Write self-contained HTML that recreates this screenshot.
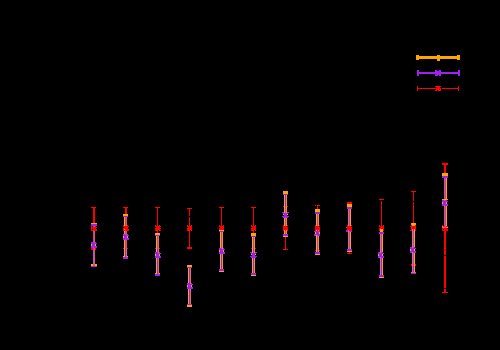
<!DOCTYPE html>
<html><head><meta charset="utf-8"><title>plot</title>
<style>
html,body{margin:0;padding:0;background:#000;width:500px;height:350px;overflow:hidden;font-family:"Liberation Sans",sans-serif;}
svg{display:block;position:absolute;left:0;top:0}
</style></head><body>
<svg width="500" height="350" viewBox="0 0 500 350" shape-rendering="crispEdges">
<rect x="0" y="0" width="500" height="350" fill="#000"/>
<rect x="91" y="207" width="5" height="1" fill="#ff0000"/>
<rect x="91" y="248" width="5" height="1" fill="#ff0000"/>
<rect x="91" y="249" width="5" height="1" fill="#ff0000"/>
<rect x="93" y="207" width="1" height="43" fill="#ff0000"/>
<rect x="94" y="207" width="1" height="43" fill="#ff0000"/>
<rect x="123" y="207" width="5" height="1" fill="#ff0000"/>
<rect x="123" y="248" width="5" height="1" fill="#ff0000"/>
<rect x="125" y="207" width="1" height="42" fill="#ff0000"/>
<rect x="126" y="207" width="1" height="42" fill="#ff0000"/>
<rect x="155" y="207" width="5" height="1" fill="#ff0000"/>
<rect x="155" y="248" width="5" height="1" fill="#ff0000"/>
<rect x="157" y="207" width="1" height="42" fill="#ff0000"/>
<rect x="187" y="208" width="5" height="1" fill="#ff0000"/>
<rect x="187" y="247" width="5" height="1" fill="#ff0000"/>
<rect x="187" y="248" width="5" height="1" fill="#ff0000"/>
<rect x="189" y="208" width="1" height="41" fill="#ff0000"/>
<rect x="219" y="207" width="5" height="1" fill="#ff0000"/>
<rect x="219" y="248" width="5" height="1" fill="#ff0000"/>
<rect x="221" y="207" width="1" height="42" fill="#ff0000"/>
<rect x="251" y="207" width="5" height="1" fill="#ff0000"/>
<rect x="251" y="248" width="5" height="1" fill="#ff0000"/>
<rect x="253" y="207" width="1" height="42" fill="#ff0000"/>
<rect x="283" y="206" width="5" height="1" fill="#ff0000"/>
<rect x="283" y="249" width="5" height="1" fill="#ff0000"/>
<rect x="285" y="206" width="1" height="44" fill="#ff0000"/>
<rect x="315" y="205" width="5" height="1" fill="#ff0000"/>
<rect x="315" y="250" width="5" height="1" fill="#ff0000"/>
<rect x="317" y="205" width="1" height="46" fill="#ff0000"/>
<rect x="347" y="202" width="5" height="1" fill="#ff0000"/>
<rect x="347" y="203" width="5" height="1" fill="#ff0000"/>
<rect x="347" y="253" width="5" height="1" fill="#ff0000"/>
<rect x="349" y="202" width="1" height="52" fill="#ff0000"/>
<rect x="379" y="199" width="5" height="1" fill="#ff0000"/>
<rect x="379" y="257" width="5" height="1" fill="#ff0000"/>
<rect x="381" y="199" width="1" height="59" fill="#ff0000"/>
<rect x="411" y="191" width="5" height="1" fill="#ff0000"/>
<rect x="411" y="264" width="5" height="1" fill="#ff0000"/>
<rect x="411" y="265" width="5" height="1" fill="#ff0000"/>
<rect x="413" y="191" width="1" height="75" fill="#ff0000"/>
<rect x="442" y="163" width="6" height="1" fill="#ff0000"/>
<rect x="442" y="164" width="6" height="1" fill="#ff0000"/>
<rect x="442" y="292" width="6" height="1" fill="#ff0000"/>
<rect x="444" y="163" width="1" height="130" fill="#ff0000"/>
<rect x="445" y="163" width="1" height="130" fill="#ff0000"/>
<rect x="91" y="223" width="6" height="1" fill="#ffa500"/>
<rect x="91" y="264" width="6" height="1" fill="#ffa500"/>
<rect x="91" y="265" width="6" height="1" fill="#ffa500"/>
<rect x="93" y="224" width="1" height="1" fill="#aa3cdc"/>
<rect x="93" y="225" width="1" height="1" fill="#e63c6e"/>
<rect x="93" y="226" width="1" height="1" fill="#aa3cdc"/>
<rect x="93" y="227" width="1" height="1" fill="#e63c6e"/>
<rect x="93" y="228" width="1" height="1" fill="#aa3cdc"/>
<rect x="93" y="229" width="1" height="1" fill="#e63c6e"/>
<rect x="93" y="230" width="1" height="1" fill="#aa3cdc"/>
<rect x="93" y="231" width="1" height="1" fill="#e63c6e"/>
<rect x="93" y="232" width="1" height="1" fill="#aa3cdc"/>
<rect x="93" y="233" width="1" height="1" fill="#e63c6e"/>
<rect x="93" y="234" width="1" height="1" fill="#aa3cdc"/>
<rect x="93" y="235" width="1" height="1" fill="#e63c6e"/>
<rect x="93" y="236" width="1" height="1" fill="#aa3cdc"/>
<rect x="93" y="237" width="1" height="1" fill="#e63c6e"/>
<rect x="93" y="238" width="1" height="1" fill="#aa3cdc"/>
<rect x="93" y="239" width="1" height="1" fill="#e63c6e"/>
<rect x="93" y="240" width="1" height="1" fill="#aa3cdc"/>
<rect x="93" y="241" width="1" height="1" fill="#e63c6e"/>
<rect x="93" y="242" width="1" height="1" fill="#aa3cdc"/>
<rect x="93" y="243" width="1" height="1" fill="#e63c6e"/>
<rect x="93" y="244" width="1" height="1" fill="#aa3cdc"/>
<rect x="93" y="245" width="1" height="1" fill="#e63c6e"/>
<rect x="93" y="246" width="1" height="1" fill="#aa3cdc"/>
<rect x="93" y="247" width="1" height="1" fill="#e63c6e"/>
<rect x="93" y="248" width="1" height="1" fill="#aa3cdc"/>
<rect x="93" y="249" width="1" height="1" fill="#e63c6e"/>
<rect x="93" y="250" width="1" height="17" fill="#c846c8"/>
<rect x="94" y="224" width="1" height="26" fill="#e0506e"/>
<rect x="94" y="250" width="1" height="17" fill="#d25a82"/>
<rect x="91" y="224" width="6" height="1" fill="#a020f0"/>
<rect x="91" y="225" width="6" height="1" fill="#a020f0"/>
<rect x="91" y="266" width="6" height="1" fill="#a020f0"/>
<rect x="91" y="242" width="1" height="1" fill="#a020f0"/>
<rect x="92" y="242" width="1" height="1" fill="#a020f0"/>
<rect x="95" y="242" width="1" height="1" fill="#a020f0"/>
<rect x="91" y="243" width="1" height="1" fill="#a020f0"/>
<rect x="92" y="243" width="1" height="1" fill="#a020f0"/>
<rect x="93" y="243" width="1" height="1" fill="#a020f0"/>
<rect x="94" y="243" width="1" height="1" fill="#a020f0"/>
<rect x="95" y="243" width="1" height="1" fill="#a020f0"/>
<rect x="96" y="243" width="1" height="1" fill="#a020f0"/>
<rect x="91" y="244" width="1" height="1" fill="#ffa500"/>
<rect x="92" y="244" width="1" height="1" fill="#a020f0"/>
<rect x="93" y="244" width="1" height="1" fill="#a020f0"/>
<rect x="94" y="244" width="1" height="1" fill="#a020f0"/>
<rect x="95" y="244" width="1" height="1" fill="#ffa500"/>
<rect x="91" y="245" width="1" height="1" fill="#ffa500"/>
<rect x="92" y="245" width="1" height="1" fill="#a020f0"/>
<rect x="93" y="245" width="1" height="1" fill="#a020f0"/>
<rect x="94" y="245" width="1" height="1" fill="#a020f0"/>
<rect x="95" y="245" width="1" height="1" fill="#ffa500"/>
<rect x="91" y="246" width="1" height="1" fill="#a020f0"/>
<rect x="92" y="246" width="1" height="1" fill="#a020f0"/>
<rect x="93" y="246" width="1" height="1" fill="#a020f0"/>
<rect x="94" y="246" width="1" height="1" fill="#a020f0"/>
<rect x="95" y="246" width="1" height="1" fill="#a020f0"/>
<rect x="96" y="246" width="1" height="1" fill="#a020f0"/>
<rect x="91" y="247" width="1" height="1" fill="#a020f0"/>
<rect x="92" y="247" width="1" height="1" fill="#a020f0"/>
<rect x="94" y="247" width="1" height="1" fill="#a020f0"/>
<rect x="95" y="247" width="1" height="1" fill="#a020f0"/>
<rect x="96" y="247" width="1" height="1" fill="#a020f0"/>
<rect x="124" y="214" width="1" height="35" fill="#ffa500"/>
<rect x="124" y="249" width="1" height="10" fill="#ffa500"/>
<rect x="123" y="214" width="5" height="1" fill="#ffa500"/>
<rect x="123" y="215" width="5" height="1" fill="#ffa500"/>
<rect x="123" y="256" width="5" height="1" fill="#ffa500"/>
<rect x="125" y="216" width="1" height="1" fill="#aa3cdc"/>
<rect x="125" y="217" width="1" height="1" fill="#e63c6e"/>
<rect x="125" y="218" width="1" height="1" fill="#aa3cdc"/>
<rect x="125" y="219" width="1" height="1" fill="#e63c6e"/>
<rect x="125" y="220" width="1" height="1" fill="#aa3cdc"/>
<rect x="125" y="221" width="1" height="1" fill="#e63c6e"/>
<rect x="125" y="222" width="1" height="1" fill="#aa3cdc"/>
<rect x="125" y="223" width="1" height="1" fill="#e63c6e"/>
<rect x="125" y="224" width="1" height="1" fill="#aa3cdc"/>
<rect x="125" y="225" width="1" height="1" fill="#e63c6e"/>
<rect x="125" y="226" width="1" height="1" fill="#aa3cdc"/>
<rect x="125" y="227" width="1" height="1" fill="#e63c6e"/>
<rect x="125" y="228" width="1" height="1" fill="#aa3cdc"/>
<rect x="125" y="229" width="1" height="1" fill="#e63c6e"/>
<rect x="125" y="230" width="1" height="1" fill="#aa3cdc"/>
<rect x="125" y="231" width="1" height="1" fill="#e63c6e"/>
<rect x="125" y="232" width="1" height="1" fill="#aa3cdc"/>
<rect x="125" y="233" width="1" height="1" fill="#e63c6e"/>
<rect x="125" y="234" width="1" height="1" fill="#aa3cdc"/>
<rect x="125" y="235" width="1" height="1" fill="#e63c6e"/>
<rect x="125" y="236" width="1" height="1" fill="#aa3cdc"/>
<rect x="125" y="237" width="1" height="1" fill="#e63c6e"/>
<rect x="125" y="238" width="1" height="1" fill="#aa3cdc"/>
<rect x="125" y="239" width="1" height="1" fill="#e63c6e"/>
<rect x="125" y="240" width="1" height="1" fill="#aa3cdc"/>
<rect x="125" y="241" width="1" height="1" fill="#e63c6e"/>
<rect x="125" y="242" width="1" height="1" fill="#aa3cdc"/>
<rect x="125" y="243" width="1" height="1" fill="#e63c6e"/>
<rect x="125" y="244" width="1" height="1" fill="#aa3cdc"/>
<rect x="125" y="245" width="1" height="1" fill="#e63c6e"/>
<rect x="125" y="246" width="1" height="1" fill="#aa3cdc"/>
<rect x="125" y="247" width="1" height="1" fill="#e63c6e"/>
<rect x="125" y="248" width="1" height="1" fill="#aa3cdc"/>
<rect x="125" y="249" width="1" height="10" fill="#a020f0"/>
<rect x="126" y="216" width="1" height="33" fill="#e0506e"/>
<rect x="126" y="249" width="1" height="10" fill="#dc6e78"/>
<rect x="123" y="216" width="5" height="1" fill="#a020f0"/>
<rect x="123" y="257" width="5" height="1" fill="#a020f0"/>
<rect x="123" y="258" width="5" height="1" fill="#a020f0"/>
<rect x="123" y="234" width="1" height="1" fill="#a020f0"/>
<rect x="124" y="234" width="1" height="1" fill="#a020f0"/>
<rect x="127" y="234" width="1" height="1" fill="#a020f0"/>
<rect x="123" y="235" width="1" height="1" fill="#a020f0"/>
<rect x="124" y="235" width="1" height="1" fill="#a020f0"/>
<rect x="125" y="235" width="1" height="1" fill="#a020f0"/>
<rect x="126" y="235" width="1" height="1" fill="#a020f0"/>
<rect x="127" y="235" width="1" height="1" fill="#a020f0"/>
<rect x="128" y="235" width="1" height="1" fill="#a020f0"/>
<rect x="123" y="236" width="1" height="1" fill="#ffa500"/>
<rect x="124" y="236" width="1" height="1" fill="#a020f0"/>
<rect x="125" y="236" width="1" height="1" fill="#a020f0"/>
<rect x="126" y="236" width="1" height="1" fill="#a020f0"/>
<rect x="127" y="236" width="1" height="1" fill="#ffa500"/>
<rect x="123" y="237" width="1" height="1" fill="#ffa500"/>
<rect x="124" y="237" width="1" height="1" fill="#a020f0"/>
<rect x="125" y="237" width="1" height="1" fill="#a020f0"/>
<rect x="126" y="237" width="1" height="1" fill="#a020f0"/>
<rect x="127" y="237" width="1" height="1" fill="#ffa500"/>
<rect x="123" y="238" width="1" height="1" fill="#a020f0"/>
<rect x="124" y="238" width="1" height="1" fill="#a020f0"/>
<rect x="125" y="238" width="1" height="1" fill="#a020f0"/>
<rect x="126" y="238" width="1" height="1" fill="#a020f0"/>
<rect x="127" y="238" width="1" height="1" fill="#a020f0"/>
<rect x="128" y="238" width="1" height="1" fill="#a020f0"/>
<rect x="123" y="239" width="1" height="1" fill="#a020f0"/>
<rect x="124" y="239" width="1" height="1" fill="#a020f0"/>
<rect x="126" y="239" width="1" height="1" fill="#a020f0"/>
<rect x="127" y="239" width="1" height="1" fill="#a020f0"/>
<rect x="128" y="239" width="1" height="1" fill="#a020f0"/>
<rect x="156" y="233" width="1" height="16" fill="#ffa500"/>
<rect x="156" y="249" width="1" height="27" fill="#ffa500"/>
<rect x="155" y="233" width="5" height="1" fill="#ffa500"/>
<rect x="155" y="234" width="5" height="1" fill="#ffa500"/>
<rect x="155" y="273" width="5" height="1" fill="#ffa500"/>
<rect x="157" y="235" width="1" height="1" fill="#e63c6e"/>
<rect x="157" y="236" width="1" height="1" fill="#aa3cdc"/>
<rect x="157" y="237" width="1" height="1" fill="#e63c6e"/>
<rect x="157" y="238" width="1" height="1" fill="#aa3cdc"/>
<rect x="157" y="239" width="1" height="1" fill="#e63c6e"/>
<rect x="157" y="240" width="1" height="1" fill="#aa3cdc"/>
<rect x="157" y="241" width="1" height="1" fill="#e63c6e"/>
<rect x="157" y="242" width="1" height="1" fill="#aa3cdc"/>
<rect x="157" y="243" width="1" height="1" fill="#e63c6e"/>
<rect x="157" y="244" width="1" height="1" fill="#aa3cdc"/>
<rect x="157" y="245" width="1" height="1" fill="#e63c6e"/>
<rect x="157" y="246" width="1" height="1" fill="#aa3cdc"/>
<rect x="157" y="247" width="1" height="1" fill="#e63c6e"/>
<rect x="157" y="248" width="1" height="1" fill="#aa3cdc"/>
<rect x="157" y="249" width="1" height="27" fill="#a020f0"/>
<rect x="158" y="235" width="1" height="14" fill="#dc6e78"/>
<rect x="158" y="249" width="1" height="27" fill="#dc6e78"/>
<rect x="155" y="235" width="5" height="1" fill="#a020f0"/>
<rect x="155" y="274" width="5" height="1" fill="#a020f0"/>
<rect x="155" y="275" width="5" height="1" fill="#a020f0"/>
<rect x="155" y="252" width="1" height="1" fill="#a020f0"/>
<rect x="156" y="252" width="1" height="1" fill="#a020f0"/>
<rect x="159" y="252" width="1" height="1" fill="#a020f0"/>
<rect x="155" y="253" width="1" height="1" fill="#a020f0"/>
<rect x="156" y="253" width="1" height="1" fill="#a020f0"/>
<rect x="157" y="253" width="1" height="1" fill="#a020f0"/>
<rect x="158" y="253" width="1" height="1" fill="#a020f0"/>
<rect x="159" y="253" width="1" height="1" fill="#a020f0"/>
<rect x="160" y="253" width="1" height="1" fill="#a020f0"/>
<rect x="155" y="254" width="1" height="1" fill="#ffa500"/>
<rect x="156" y="254" width="1" height="1" fill="#a020f0"/>
<rect x="157" y="254" width="1" height="1" fill="#a020f0"/>
<rect x="158" y="254" width="1" height="1" fill="#a020f0"/>
<rect x="159" y="254" width="1" height="1" fill="#ffa500"/>
<rect x="155" y="255" width="1" height="1" fill="#ffa500"/>
<rect x="156" y="255" width="1" height="1" fill="#a020f0"/>
<rect x="157" y="255" width="1" height="1" fill="#a020f0"/>
<rect x="158" y="255" width="1" height="1" fill="#a020f0"/>
<rect x="159" y="255" width="1" height="1" fill="#ffa500"/>
<rect x="155" y="256" width="1" height="1" fill="#a020f0"/>
<rect x="156" y="256" width="1" height="1" fill="#a020f0"/>
<rect x="157" y="256" width="1" height="1" fill="#a020f0"/>
<rect x="158" y="256" width="1" height="1" fill="#a020f0"/>
<rect x="159" y="256" width="1" height="1" fill="#a020f0"/>
<rect x="160" y="256" width="1" height="1" fill="#a020f0"/>
<rect x="155" y="257" width="1" height="1" fill="#a020f0"/>
<rect x="156" y="257" width="1" height="1" fill="#a020f0"/>
<rect x="158" y="257" width="1" height="1" fill="#a020f0"/>
<rect x="159" y="257" width="1" height="1" fill="#a020f0"/>
<rect x="160" y="257" width="1" height="1" fill="#a020f0"/>
<rect x="188" y="265" width="1" height="42" fill="#ffa500"/>
<rect x="187" y="265" width="5" height="1" fill="#ffa500"/>
<rect x="187" y="266" width="5" height="1" fill="#ffa500"/>
<rect x="187" y="305" width="5" height="1" fill="#ffa500"/>
<rect x="187" y="306" width="5" height="1" fill="#ffa500"/>
<rect x="189" y="267" width="1" height="38" fill="#a020f0"/>
<rect x="190" y="267" width="1" height="38" fill="#dc6e78"/>
<rect x="187" y="267" width="5" height="1" fill="#a020f0"/>
<rect x="187" y="304" width="5" height="1" fill="#a020f0"/>
<rect x="187" y="283" width="1" height="1" fill="#a020f0"/>
<rect x="188" y="283" width="1" height="1" fill="#a020f0"/>
<rect x="191" y="283" width="1" height="1" fill="#a020f0"/>
<rect x="187" y="284" width="1" height="1" fill="#a020f0"/>
<rect x="188" y="284" width="1" height="1" fill="#a020f0"/>
<rect x="189" y="284" width="1" height="1" fill="#a020f0"/>
<rect x="190" y="284" width="1" height="1" fill="#a020f0"/>
<rect x="191" y="284" width="1" height="1" fill="#a020f0"/>
<rect x="192" y="284" width="1" height="1" fill="#a020f0"/>
<rect x="187" y="285" width="1" height="1" fill="#ffa500"/>
<rect x="188" y="285" width="1" height="1" fill="#a020f0"/>
<rect x="189" y="285" width="1" height="1" fill="#a020f0"/>
<rect x="190" y="285" width="1" height="1" fill="#a020f0"/>
<rect x="191" y="285" width="1" height="1" fill="#ffa500"/>
<rect x="187" y="286" width="1" height="1" fill="#ffa500"/>
<rect x="188" y="286" width="1" height="1" fill="#a020f0"/>
<rect x="189" y="286" width="1" height="1" fill="#a020f0"/>
<rect x="190" y="286" width="1" height="1" fill="#a020f0"/>
<rect x="191" y="286" width="1" height="1" fill="#ffa500"/>
<rect x="187" y="287" width="1" height="1" fill="#a020f0"/>
<rect x="188" y="287" width="1" height="1" fill="#a020f0"/>
<rect x="189" y="287" width="1" height="1" fill="#a020f0"/>
<rect x="190" y="287" width="1" height="1" fill="#a020f0"/>
<rect x="191" y="287" width="1" height="1" fill="#a020f0"/>
<rect x="192" y="287" width="1" height="1" fill="#a020f0"/>
<rect x="187" y="288" width="1" height="1" fill="#a020f0"/>
<rect x="188" y="288" width="1" height="1" fill="#a020f0"/>
<rect x="190" y="288" width="1" height="1" fill="#a020f0"/>
<rect x="191" y="288" width="1" height="1" fill="#a020f0"/>
<rect x="192" y="288" width="1" height="1" fill="#a020f0"/>
<rect x="220" y="230" width="1" height="19" fill="#ffa500"/>
<rect x="220" y="249" width="1" height="23" fill="#ffa500"/>
<rect x="219" y="230" width="5" height="1" fill="#ffa500"/>
<rect x="219" y="271" width="5" height="1" fill="#ffa500"/>
<rect x="221" y="231" width="1" height="1" fill="#e63c6e"/>
<rect x="221" y="232" width="1" height="1" fill="#aa3cdc"/>
<rect x="221" y="233" width="1" height="1" fill="#e63c6e"/>
<rect x="221" y="234" width="1" height="1" fill="#aa3cdc"/>
<rect x="221" y="235" width="1" height="1" fill="#e63c6e"/>
<rect x="221" y="236" width="1" height="1" fill="#aa3cdc"/>
<rect x="221" y="237" width="1" height="1" fill="#e63c6e"/>
<rect x="221" y="238" width="1" height="1" fill="#aa3cdc"/>
<rect x="221" y="239" width="1" height="1" fill="#e63c6e"/>
<rect x="221" y="240" width="1" height="1" fill="#aa3cdc"/>
<rect x="221" y="241" width="1" height="1" fill="#e63c6e"/>
<rect x="221" y="242" width="1" height="1" fill="#aa3cdc"/>
<rect x="221" y="243" width="1" height="1" fill="#e63c6e"/>
<rect x="221" y="244" width="1" height="1" fill="#aa3cdc"/>
<rect x="221" y="245" width="1" height="1" fill="#e63c6e"/>
<rect x="221" y="246" width="1" height="1" fill="#aa3cdc"/>
<rect x="221" y="247" width="1" height="1" fill="#e63c6e"/>
<rect x="221" y="248" width="1" height="1" fill="#aa3cdc"/>
<rect x="221" y="249" width="1" height="22" fill="#a020f0"/>
<rect x="222" y="231" width="1" height="18" fill="#f09030"/>
<rect x="222" y="249" width="1" height="22" fill="#f09030"/>
<rect x="219" y="231" width="5" height="1" fill="#a020f0"/>
<rect x="219" y="269" width="5" height="1" fill="#a020f0"/>
<rect x="219" y="270" width="5" height="1" fill="#a020f0"/>
<rect x="219" y="248" width="1" height="1" fill="#a020f0"/>
<rect x="220" y="248" width="1" height="1" fill="#a020f0"/>
<rect x="223" y="248" width="1" height="1" fill="#a020f0"/>
<rect x="219" y="249" width="1" height="1" fill="#a020f0"/>
<rect x="220" y="249" width="1" height="1" fill="#a020f0"/>
<rect x="221" y="249" width="1" height="1" fill="#a020f0"/>
<rect x="222" y="249" width="1" height="1" fill="#a020f0"/>
<rect x="223" y="249" width="1" height="1" fill="#a020f0"/>
<rect x="224" y="249" width="1" height="1" fill="#a020f0"/>
<rect x="219" y="250" width="1" height="1" fill="#ffa500"/>
<rect x="220" y="250" width="1" height="1" fill="#a020f0"/>
<rect x="221" y="250" width="1" height="1" fill="#a020f0"/>
<rect x="222" y="250" width="1" height="1" fill="#a020f0"/>
<rect x="223" y="250" width="1" height="1" fill="#ffa500"/>
<rect x="219" y="251" width="1" height="1" fill="#ffa500"/>
<rect x="220" y="251" width="1" height="1" fill="#a020f0"/>
<rect x="221" y="251" width="1" height="1" fill="#a020f0"/>
<rect x="222" y="251" width="1" height="1" fill="#a020f0"/>
<rect x="223" y="251" width="1" height="1" fill="#ffa500"/>
<rect x="219" y="252" width="1" height="1" fill="#a020f0"/>
<rect x="220" y="252" width="1" height="1" fill="#a020f0"/>
<rect x="221" y="252" width="1" height="1" fill="#a020f0"/>
<rect x="222" y="252" width="1" height="1" fill="#a020f0"/>
<rect x="223" y="252" width="1" height="1" fill="#a020f0"/>
<rect x="224" y="252" width="1" height="1" fill="#a020f0"/>
<rect x="219" y="253" width="1" height="1" fill="#a020f0"/>
<rect x="220" y="253" width="1" height="1" fill="#a020f0"/>
<rect x="222" y="253" width="1" height="1" fill="#a020f0"/>
<rect x="223" y="253" width="1" height="1" fill="#a020f0"/>
<rect x="224" y="253" width="1" height="1" fill="#a020f0"/>
<rect x="252" y="233" width="1" height="16" fill="#ffa500"/>
<rect x="252" y="249" width="1" height="27" fill="#ffa500"/>
<rect x="251" y="233" width="5" height="1" fill="#ffa500"/>
<rect x="251" y="234" width="5" height="1" fill="#ffa500"/>
<rect x="251" y="235" width="5" height="1" fill="#ffa500"/>
<rect x="251" y="275" width="5" height="1" fill="#ffa500"/>
<rect x="253" y="236" width="1" height="1" fill="#aa3cdc"/>
<rect x="253" y="237" width="1" height="1" fill="#e63c6e"/>
<rect x="253" y="238" width="1" height="1" fill="#aa3cdc"/>
<rect x="253" y="239" width="1" height="1" fill="#e63c6e"/>
<rect x="253" y="240" width="1" height="1" fill="#aa3cdc"/>
<rect x="253" y="241" width="1" height="1" fill="#e63c6e"/>
<rect x="253" y="242" width="1" height="1" fill="#aa3cdc"/>
<rect x="253" y="243" width="1" height="1" fill="#e63c6e"/>
<rect x="253" y="244" width="1" height="1" fill="#aa3cdc"/>
<rect x="253" y="245" width="1" height="1" fill="#e63c6e"/>
<rect x="253" y="246" width="1" height="1" fill="#aa3cdc"/>
<rect x="253" y="247" width="1" height="1" fill="#e63c6e"/>
<rect x="253" y="248" width="1" height="1" fill="#aa3cdc"/>
<rect x="253" y="249" width="1" height="26" fill="#a020f0"/>
<rect x="254" y="236" width="1" height="13" fill="#f09030"/>
<rect x="254" y="249" width="1" height="26" fill="#f09030"/>
<rect x="251" y="236" width="5" height="1" fill="#a020f0"/>
<rect x="251" y="273" width="5" height="1" fill="#a020f0"/>
<rect x="251" y="274" width="5" height="1" fill="#a020f0"/>
<rect x="250" y="252" width="1" height="1" fill="#a020f0"/>
<rect x="251" y="252" width="1" height="1" fill="#a020f0"/>
<rect x="255" y="252" width="1" height="1" fill="#a020f0"/>
<rect x="256" y="252" width="1" height="1" fill="#a020f0"/>
<rect x="251" y="253" width="1" height="1" fill="#a020f0"/>
<rect x="252" y="253" width="1" height="1" fill="#a020f0"/>
<rect x="253" y="253" width="1" height="1" fill="#a020f0"/>
<rect x="254" y="253" width="1" height="1" fill="#a020f0"/>
<rect x="255" y="253" width="1" height="1" fill="#a020f0"/>
<rect x="251" y="254" width="1" height="1" fill="#ffa500"/>
<rect x="252" y="254" width="1" height="1" fill="#a020f0"/>
<rect x="253" y="254" width="1" height="1" fill="#a020f0"/>
<rect x="254" y="254" width="1" height="1" fill="#a020f0"/>
<rect x="255" y="254" width="1" height="1" fill="#ffa500"/>
<rect x="252" y="255" width="1" height="1" fill="#a020f0"/>
<rect x="253" y="255" width="1" height="1" fill="#a020f0"/>
<rect x="254" y="255" width="1" height="1" fill="#a020f0"/>
<rect x="250" y="256" width="1" height="1" fill="#a020f0"/>
<rect x="251" y="256" width="1" height="1" fill="#a020f0"/>
<rect x="252" y="256" width="1" height="1" fill="#a020f0"/>
<rect x="253" y="256" width="1" height="1" fill="#a020f0"/>
<rect x="254" y="256" width="1" height="1" fill="#a020f0"/>
<rect x="255" y="256" width="1" height="1" fill="#a020f0"/>
<rect x="256" y="256" width="1" height="1" fill="#a020f0"/>
<rect x="251" y="257" width="1" height="1" fill="#a020f0"/>
<rect x="252" y="257" width="1" height="1" fill="#a020f0"/>
<rect x="254" y="257" width="1" height="1" fill="#a020f0"/>
<rect x="255" y="257" width="1" height="1" fill="#a020f0"/>
<rect x="284" y="191" width="1" height="15" fill="#ffa500"/>
<rect x="284" y="206" width="1" height="31" fill="#ffa500"/>
<rect x="283" y="191" width="5" height="1" fill="#ffa500"/>
<rect x="283" y="192" width="5" height="1" fill="#ffa500"/>
<rect x="283" y="193" width="5" height="1" fill="#ffa500"/>
<rect x="283" y="236" width="5" height="1" fill="#ffa500"/>
<rect x="285" y="194" width="1" height="12" fill="#a020f0"/>
<rect x="285" y="206" width="1" height="1" fill="#aa3cdc"/>
<rect x="285" y="207" width="1" height="1" fill="#e63c6e"/>
<rect x="285" y="208" width="1" height="1" fill="#aa3cdc"/>
<rect x="285" y="209" width="1" height="1" fill="#e63c6e"/>
<rect x="285" y="210" width="1" height="1" fill="#aa3cdc"/>
<rect x="285" y="211" width="1" height="1" fill="#e63c6e"/>
<rect x="285" y="212" width="1" height="1" fill="#aa3cdc"/>
<rect x="285" y="213" width="1" height="1" fill="#e63c6e"/>
<rect x="285" y="214" width="1" height="1" fill="#aa3cdc"/>
<rect x="285" y="215" width="1" height="1" fill="#e63c6e"/>
<rect x="285" y="216" width="1" height="1" fill="#aa3cdc"/>
<rect x="285" y="217" width="1" height="1" fill="#e63c6e"/>
<rect x="285" y="218" width="1" height="1" fill="#aa3cdc"/>
<rect x="285" y="219" width="1" height="1" fill="#e63c6e"/>
<rect x="285" y="220" width="1" height="1" fill="#aa3cdc"/>
<rect x="285" y="221" width="1" height="1" fill="#e63c6e"/>
<rect x="285" y="222" width="1" height="1" fill="#aa3cdc"/>
<rect x="285" y="223" width="1" height="1" fill="#e63c6e"/>
<rect x="285" y="224" width="1" height="1" fill="#aa3cdc"/>
<rect x="285" y="225" width="1" height="1" fill="#e63c6e"/>
<rect x="285" y="226" width="1" height="1" fill="#aa3cdc"/>
<rect x="285" y="227" width="1" height="1" fill="#e63c6e"/>
<rect x="285" y="228" width="1" height="1" fill="#aa3cdc"/>
<rect x="285" y="229" width="1" height="1" fill="#e63c6e"/>
<rect x="285" y="230" width="1" height="1" fill="#aa3cdc"/>
<rect x="285" y="231" width="1" height="1" fill="#e63c6e"/>
<rect x="285" y="232" width="1" height="1" fill="#aa3cdc"/>
<rect x="285" y="233" width="1" height="1" fill="#e63c6e"/>
<rect x="285" y="234" width="1" height="1" fill="#aa3cdc"/>
<rect x="285" y="235" width="1" height="1" fill="#e63c6e"/>
<rect x="286" y="194" width="1" height="12" fill="#f09030"/>
<rect x="286" y="206" width="1" height="30" fill="#f09030"/>
<rect x="283" y="194" width="5" height="1" fill="#a020f0"/>
<rect x="283" y="234" width="5" height="1" fill="#a020f0"/>
<rect x="283" y="235" width="5" height="1" fill="#a020f0"/>
<rect x="282" y="212" width="1" height="1" fill="#a020f0"/>
<rect x="283" y="212" width="1" height="1" fill="#a020f0"/>
<rect x="287" y="212" width="1" height="1" fill="#a020f0"/>
<rect x="288" y="212" width="1" height="1" fill="#a020f0"/>
<rect x="283" y="213" width="1" height="1" fill="#a020f0"/>
<rect x="284" y="213" width="1" height="1" fill="#a020f0"/>
<rect x="285" y="213" width="1" height="1" fill="#a020f0"/>
<rect x="286" y="213" width="1" height="1" fill="#a020f0"/>
<rect x="287" y="213" width="1" height="1" fill="#a020f0"/>
<rect x="283" y="214" width="1" height="1" fill="#ffa500"/>
<rect x="284" y="214" width="1" height="1" fill="#a020f0"/>
<rect x="285" y="214" width="1" height="1" fill="#a020f0"/>
<rect x="286" y="214" width="1" height="1" fill="#a020f0"/>
<rect x="287" y="214" width="1" height="1" fill="#ffa500"/>
<rect x="284" y="215" width="1" height="1" fill="#a020f0"/>
<rect x="285" y="215" width="1" height="1" fill="#a020f0"/>
<rect x="286" y="215" width="1" height="1" fill="#a020f0"/>
<rect x="282" y="216" width="1" height="1" fill="#a020f0"/>
<rect x="283" y="216" width="1" height="1" fill="#a020f0"/>
<rect x="284" y="216" width="1" height="1" fill="#a020f0"/>
<rect x="285" y="216" width="1" height="1" fill="#a020f0"/>
<rect x="286" y="216" width="1" height="1" fill="#a020f0"/>
<rect x="287" y="216" width="1" height="1" fill="#a020f0"/>
<rect x="288" y="216" width="1" height="1" fill="#a020f0"/>
<rect x="283" y="217" width="1" height="1" fill="#a020f0"/>
<rect x="284" y="217" width="1" height="1" fill="#a020f0"/>
<rect x="286" y="217" width="1" height="1" fill="#a020f0"/>
<rect x="287" y="217" width="1" height="1" fill="#a020f0"/>
<rect x="316" y="209" width="1" height="42" fill="#ffa500"/>
<rect x="316" y="251" width="1" height="4" fill="#ffa500"/>
<rect x="315" y="209" width="5" height="1" fill="#ffa500"/>
<rect x="315" y="210" width="5" height="1" fill="#ffa500"/>
<rect x="315" y="211" width="5" height="1" fill="#ffa500"/>
<rect x="315" y="254" width="5" height="1" fill="#ffa500"/>
<rect x="317" y="212" width="1" height="1" fill="#aa3cdc"/>
<rect x="317" y="213" width="1" height="1" fill="#e63c6e"/>
<rect x="317" y="214" width="1" height="1" fill="#aa3cdc"/>
<rect x="317" y="215" width="1" height="1" fill="#e63c6e"/>
<rect x="317" y="216" width="1" height="1" fill="#aa3cdc"/>
<rect x="317" y="217" width="1" height="1" fill="#e63c6e"/>
<rect x="317" y="218" width="1" height="1" fill="#aa3cdc"/>
<rect x="317" y="219" width="1" height="1" fill="#e63c6e"/>
<rect x="317" y="220" width="1" height="1" fill="#aa3cdc"/>
<rect x="317" y="221" width="1" height="1" fill="#e63c6e"/>
<rect x="317" y="222" width="1" height="1" fill="#aa3cdc"/>
<rect x="317" y="223" width="1" height="1" fill="#e63c6e"/>
<rect x="317" y="224" width="1" height="1" fill="#aa3cdc"/>
<rect x="317" y="225" width="1" height="1" fill="#e63c6e"/>
<rect x="317" y="226" width="1" height="1" fill="#aa3cdc"/>
<rect x="317" y="227" width="1" height="1" fill="#e63c6e"/>
<rect x="317" y="228" width="1" height="1" fill="#aa3cdc"/>
<rect x="317" y="229" width="1" height="1" fill="#e63c6e"/>
<rect x="317" y="230" width="1" height="1" fill="#aa3cdc"/>
<rect x="317" y="231" width="1" height="1" fill="#e63c6e"/>
<rect x="317" y="232" width="1" height="1" fill="#aa3cdc"/>
<rect x="317" y="233" width="1" height="1" fill="#e63c6e"/>
<rect x="317" y="234" width="1" height="1" fill="#aa3cdc"/>
<rect x="317" y="235" width="1" height="1" fill="#e63c6e"/>
<rect x="317" y="236" width="1" height="1" fill="#aa3cdc"/>
<rect x="317" y="237" width="1" height="1" fill="#e63c6e"/>
<rect x="317" y="238" width="1" height="1" fill="#aa3cdc"/>
<rect x="317" y="239" width="1" height="1" fill="#e63c6e"/>
<rect x="317" y="240" width="1" height="1" fill="#aa3cdc"/>
<rect x="317" y="241" width="1" height="1" fill="#e63c6e"/>
<rect x="317" y="242" width="1" height="1" fill="#aa3cdc"/>
<rect x="317" y="243" width="1" height="1" fill="#e63c6e"/>
<rect x="317" y="244" width="1" height="1" fill="#aa3cdc"/>
<rect x="317" y="245" width="1" height="1" fill="#e63c6e"/>
<rect x="317" y="246" width="1" height="1" fill="#aa3cdc"/>
<rect x="317" y="247" width="1" height="1" fill="#e63c6e"/>
<rect x="317" y="248" width="1" height="1" fill="#aa3cdc"/>
<rect x="317" y="249" width="1" height="1" fill="#e63c6e"/>
<rect x="317" y="250" width="1" height="1" fill="#aa3cdc"/>
<rect x="317" y="251" width="1" height="3" fill="#a020f0"/>
<rect x="318" y="212" width="1" height="39" fill="#f08c3c"/>
<rect x="318" y="251" width="1" height="3" fill="#f08c3c"/>
<rect x="315" y="212" width="5" height="1" fill="#a020f0"/>
<rect x="315" y="213" width="5" height="1" fill="#a020f0"/>
<rect x="315" y="252" width="5" height="1" fill="#a020f0"/>
<rect x="315" y="253" width="5" height="1" fill="#a020f0"/>
<rect x="314" y="231" width="1" height="1" fill="#a020f0"/>
<rect x="315" y="231" width="1" height="1" fill="#a020f0"/>
<rect x="316" y="231" width="1" height="1" fill="#a020f0"/>
<rect x="317" y="231" width="1" height="1" fill="#a020f0"/>
<rect x="318" y="231" width="1" height="1" fill="#a020f0"/>
<rect x="319" y="231" width="1" height="1" fill="#a020f0"/>
<rect x="315" y="232" width="1" height="1" fill="#ffa500"/>
<rect x="316" y="232" width="1" height="1" fill="#a020f0"/>
<rect x="317" y="232" width="1" height="1" fill="#a020f0"/>
<rect x="318" y="232" width="1" height="1" fill="#a020f0"/>
<rect x="319" y="232" width="1" height="1" fill="#ffa500"/>
<rect x="315" y="233" width="1" height="1" fill="#ffa500"/>
<rect x="316" y="233" width="1" height="1" fill="#a020f0"/>
<rect x="317" y="233" width="1" height="1" fill="#a020f0"/>
<rect x="318" y="233" width="1" height="1" fill="#a020f0"/>
<rect x="319" y="233" width="1" height="1" fill="#ffa500"/>
<rect x="314" y="234" width="1" height="1" fill="#a020f0"/>
<rect x="315" y="234" width="1" height="1" fill="#a020f0"/>
<rect x="316" y="234" width="1" height="1" fill="#a020f0"/>
<rect x="317" y="234" width="1" height="1" fill="#a020f0"/>
<rect x="318" y="234" width="1" height="1" fill="#a020f0"/>
<rect x="319" y="234" width="1" height="1" fill="#a020f0"/>
<rect x="314" y="235" width="1" height="1" fill="#a020f0"/>
<rect x="315" y="235" width="1" height="1" fill="#a020f0"/>
<rect x="318" y="235" width="1" height="1" fill="#a020f0"/>
<rect x="319" y="235" width="1" height="1" fill="#a020f0"/>
<rect x="350" y="204" width="1" height="48" fill="#ffa500"/>
<rect x="347" y="204" width="5" height="1" fill="#ffa500"/>
<rect x="347" y="205" width="5" height="1" fill="#ffa500"/>
<rect x="347" y="206" width="5" height="1" fill="#ffa500"/>
<rect x="347" y="251" width="5" height="1" fill="#ffa500"/>
<rect x="348" y="207" width="1" height="44" fill="#dc6e78"/>
<rect x="349" y="207" width="1" height="1" fill="#e63c6e"/>
<rect x="349" y="208" width="1" height="1" fill="#aa3cdc"/>
<rect x="349" y="209" width="1" height="1" fill="#e63c6e"/>
<rect x="349" y="210" width="1" height="1" fill="#aa3cdc"/>
<rect x="349" y="211" width="1" height="1" fill="#e63c6e"/>
<rect x="349" y="212" width="1" height="1" fill="#aa3cdc"/>
<rect x="349" y="213" width="1" height="1" fill="#e63c6e"/>
<rect x="349" y="214" width="1" height="1" fill="#aa3cdc"/>
<rect x="349" y="215" width="1" height="1" fill="#e63c6e"/>
<rect x="349" y="216" width="1" height="1" fill="#aa3cdc"/>
<rect x="349" y="217" width="1" height="1" fill="#e63c6e"/>
<rect x="349" y="218" width="1" height="1" fill="#aa3cdc"/>
<rect x="349" y="219" width="1" height="1" fill="#e63c6e"/>
<rect x="349" y="220" width="1" height="1" fill="#aa3cdc"/>
<rect x="349" y="221" width="1" height="1" fill="#e63c6e"/>
<rect x="349" y="222" width="1" height="1" fill="#aa3cdc"/>
<rect x="349" y="223" width="1" height="1" fill="#e63c6e"/>
<rect x="349" y="224" width="1" height="1" fill="#aa3cdc"/>
<rect x="349" y="225" width="1" height="1" fill="#e63c6e"/>
<rect x="349" y="226" width="1" height="1" fill="#aa3cdc"/>
<rect x="349" y="227" width="1" height="1" fill="#e63c6e"/>
<rect x="349" y="228" width="1" height="1" fill="#aa3cdc"/>
<rect x="349" y="229" width="1" height="1" fill="#e63c6e"/>
<rect x="349" y="230" width="1" height="1" fill="#aa3cdc"/>
<rect x="349" y="231" width="1" height="1" fill="#e63c6e"/>
<rect x="349" y="232" width="1" height="1" fill="#aa3cdc"/>
<rect x="349" y="233" width="1" height="1" fill="#e63c6e"/>
<rect x="349" y="234" width="1" height="1" fill="#aa3cdc"/>
<rect x="349" y="235" width="1" height="1" fill="#e63c6e"/>
<rect x="349" y="236" width="1" height="1" fill="#aa3cdc"/>
<rect x="349" y="237" width="1" height="1" fill="#e63c6e"/>
<rect x="349" y="238" width="1" height="1" fill="#aa3cdc"/>
<rect x="349" y="239" width="1" height="1" fill="#e63c6e"/>
<rect x="349" y="240" width="1" height="1" fill="#aa3cdc"/>
<rect x="349" y="241" width="1" height="1" fill="#e63c6e"/>
<rect x="349" y="242" width="1" height="1" fill="#aa3cdc"/>
<rect x="349" y="243" width="1" height="1" fill="#e63c6e"/>
<rect x="349" y="244" width="1" height="1" fill="#aa3cdc"/>
<rect x="349" y="245" width="1" height="1" fill="#e63c6e"/>
<rect x="349" y="246" width="1" height="1" fill="#aa3cdc"/>
<rect x="349" y="247" width="1" height="1" fill="#e63c6e"/>
<rect x="349" y="248" width="1" height="1" fill="#aa3cdc"/>
<rect x="349" y="249" width="1" height="1" fill="#e63c6e"/>
<rect x="349" y="250" width="1" height="1" fill="#aa3cdc"/>
<rect x="347" y="207" width="5" height="1" fill="#a020f0"/>
<rect x="347" y="208" width="5" height="1" fill="#a020f0"/>
<rect x="347" y="249" width="5" height="1" fill="#a020f0"/>
<rect x="347" y="250" width="5" height="1" fill="#a020f0"/>
<rect x="346" y="227" width="1" height="1" fill="#a020f0"/>
<rect x="351" y="227" width="1" height="1" fill="#a020f0"/>
<rect x="346" y="230" width="1" height="1" fill="#a020f0"/>
<rect x="347" y="230" width="1" height="1" fill="#a020f0"/>
<rect x="350" y="230" width="1" height="1" fill="#a020f0"/>
<rect x="351" y="230" width="1" height="1" fill="#a020f0"/>
<rect x="346" y="231" width="1" height="1" fill="#a020f0"/>
<rect x="347" y="231" width="1" height="1" fill="#a020f0"/>
<rect x="350" y="231" width="1" height="1" fill="#a020f0"/>
<rect x="351" y="231" width="1" height="1" fill="#a020f0"/>
<rect x="382" y="232" width="1" height="26" fill="#ffa500"/>
<rect x="382" y="258" width="1" height="20" fill="#ffa500"/>
<rect x="379" y="277" width="5" height="1" fill="#ffa500"/>
<rect x="380" y="232" width="1" height="26" fill="#dc6e78"/>
<rect x="380" y="258" width="1" height="19" fill="#dc6e78"/>
<rect x="381" y="232" width="1" height="1" fill="#aa3cdc"/>
<rect x="381" y="233" width="1" height="1" fill="#e63c6e"/>
<rect x="381" y="234" width="1" height="1" fill="#aa3cdc"/>
<rect x="381" y="235" width="1" height="1" fill="#e63c6e"/>
<rect x="381" y="236" width="1" height="1" fill="#aa3cdc"/>
<rect x="381" y="237" width="1" height="1" fill="#e63c6e"/>
<rect x="381" y="238" width="1" height="1" fill="#aa3cdc"/>
<rect x="381" y="239" width="1" height="1" fill="#e63c6e"/>
<rect x="381" y="240" width="1" height="1" fill="#aa3cdc"/>
<rect x="381" y="241" width="1" height="1" fill="#e63c6e"/>
<rect x="381" y="242" width="1" height="1" fill="#aa3cdc"/>
<rect x="381" y="243" width="1" height="1" fill="#e63c6e"/>
<rect x="381" y="244" width="1" height="1" fill="#aa3cdc"/>
<rect x="381" y="245" width="1" height="1" fill="#e63c6e"/>
<rect x="381" y="246" width="1" height="1" fill="#aa3cdc"/>
<rect x="381" y="247" width="1" height="1" fill="#e63c6e"/>
<rect x="381" y="248" width="1" height="1" fill="#aa3cdc"/>
<rect x="381" y="249" width="1" height="1" fill="#e63c6e"/>
<rect x="381" y="250" width="1" height="1" fill="#aa3cdc"/>
<rect x="381" y="251" width="1" height="1" fill="#e63c6e"/>
<rect x="381" y="252" width="1" height="1" fill="#aa3cdc"/>
<rect x="381" y="253" width="1" height="1" fill="#e63c6e"/>
<rect x="381" y="254" width="1" height="1" fill="#aa3cdc"/>
<rect x="381" y="255" width="1" height="1" fill="#e63c6e"/>
<rect x="381" y="256" width="1" height="1" fill="#aa3cdc"/>
<rect x="381" y="257" width="1" height="1" fill="#e63c6e"/>
<rect x="381" y="258" width="1" height="19" fill="#a020f0"/>
<rect x="379" y="232" width="5" height="1" fill="#a020f0"/>
<rect x="379" y="233" width="5" height="1" fill="#a020f0"/>
<rect x="379" y="275" width="5" height="1" fill="#a020f0"/>
<rect x="379" y="276" width="5" height="1" fill="#a020f0"/>
<rect x="378" y="252" width="1" height="1" fill="#a020f0"/>
<rect x="379" y="252" width="1" height="1" fill="#a020f0"/>
<rect x="382" y="252" width="1" height="1" fill="#a020f0"/>
<rect x="378" y="253" width="1" height="1" fill="#a020f0"/>
<rect x="379" y="253" width="1" height="1" fill="#a020f0"/>
<rect x="380" y="253" width="1" height="1" fill="#a020f0"/>
<rect x="381" y="253" width="1" height="1" fill="#a020f0"/>
<rect x="382" y="253" width="1" height="1" fill="#a020f0"/>
<rect x="383" y="253" width="1" height="1" fill="#a020f0"/>
<rect x="378" y="254" width="1" height="1" fill="#ffa500"/>
<rect x="379" y="254" width="1" height="1" fill="#a020f0"/>
<rect x="380" y="254" width="1" height="1" fill="#a020f0"/>
<rect x="381" y="254" width="1" height="1" fill="#a020f0"/>
<rect x="382" y="254" width="1" height="1" fill="#ffa500"/>
<rect x="378" y="255" width="1" height="1" fill="#ffa500"/>
<rect x="379" y="255" width="1" height="1" fill="#a020f0"/>
<rect x="380" y="255" width="1" height="1" fill="#a020f0"/>
<rect x="381" y="255" width="1" height="1" fill="#a020f0"/>
<rect x="382" y="255" width="1" height="1" fill="#ffa500"/>
<rect x="378" y="256" width="1" height="1" fill="#a020f0"/>
<rect x="379" y="256" width="1" height="1" fill="#a020f0"/>
<rect x="380" y="256" width="1" height="1" fill="#a020f0"/>
<rect x="381" y="256" width="1" height="1" fill="#a020f0"/>
<rect x="382" y="256" width="1" height="1" fill="#a020f0"/>
<rect x="383" y="256" width="1" height="1" fill="#a020f0"/>
<rect x="378" y="257" width="1" height="1" fill="#a020f0"/>
<rect x="379" y="257" width="1" height="1" fill="#a020f0"/>
<rect x="381" y="257" width="1" height="1" fill="#a020f0"/>
<rect x="382" y="257" width="1" height="1" fill="#a020f0"/>
<rect x="383" y="257" width="1" height="1" fill="#a020f0"/>
<rect x="414" y="223" width="1" height="43" fill="#ffa500"/>
<rect x="414" y="266" width="1" height="8" fill="#ffa500"/>
<rect x="411" y="223" width="5" height="1" fill="#ffa500"/>
<rect x="411" y="224" width="5" height="1" fill="#ffa500"/>
<rect x="411" y="225" width="5" height="1" fill="#ffa500"/>
<rect x="412" y="226" width="1" height="40" fill="#dc6e78"/>
<rect x="412" y="266" width="1" height="8" fill="#dc6e78"/>
<rect x="413" y="226" width="1" height="1" fill="#aa3cdc"/>
<rect x="413" y="227" width="1" height="1" fill="#e63c6e"/>
<rect x="413" y="228" width="1" height="1" fill="#aa3cdc"/>
<rect x="413" y="229" width="1" height="1" fill="#e63c6e"/>
<rect x="413" y="230" width="1" height="1" fill="#aa3cdc"/>
<rect x="413" y="231" width="1" height="1" fill="#e63c6e"/>
<rect x="413" y="232" width="1" height="1" fill="#aa3cdc"/>
<rect x="413" y="233" width="1" height="1" fill="#e63c6e"/>
<rect x="413" y="234" width="1" height="1" fill="#aa3cdc"/>
<rect x="413" y="235" width="1" height="1" fill="#e63c6e"/>
<rect x="413" y="236" width="1" height="1" fill="#aa3cdc"/>
<rect x="413" y="237" width="1" height="1" fill="#e63c6e"/>
<rect x="413" y="238" width="1" height="1" fill="#aa3cdc"/>
<rect x="413" y="239" width="1" height="1" fill="#e63c6e"/>
<rect x="413" y="240" width="1" height="1" fill="#aa3cdc"/>
<rect x="413" y="241" width="1" height="1" fill="#e63c6e"/>
<rect x="413" y="242" width="1" height="1" fill="#aa3cdc"/>
<rect x="413" y="243" width="1" height="1" fill="#e63c6e"/>
<rect x="413" y="244" width="1" height="1" fill="#aa3cdc"/>
<rect x="413" y="245" width="1" height="1" fill="#e63c6e"/>
<rect x="413" y="246" width="1" height="1" fill="#aa3cdc"/>
<rect x="413" y="247" width="1" height="1" fill="#e63c6e"/>
<rect x="413" y="248" width="1" height="1" fill="#aa3cdc"/>
<rect x="413" y="249" width="1" height="1" fill="#e63c6e"/>
<rect x="413" y="250" width="1" height="1" fill="#aa3cdc"/>
<rect x="413" y="251" width="1" height="1" fill="#e63c6e"/>
<rect x="413" y="252" width="1" height="1" fill="#aa3cdc"/>
<rect x="413" y="253" width="1" height="1" fill="#e63c6e"/>
<rect x="413" y="254" width="1" height="1" fill="#aa3cdc"/>
<rect x="413" y="255" width="1" height="1" fill="#e63c6e"/>
<rect x="413" y="256" width="1" height="1" fill="#aa3cdc"/>
<rect x="413" y="257" width="1" height="1" fill="#e63c6e"/>
<rect x="413" y="258" width="1" height="1" fill="#aa3cdc"/>
<rect x="413" y="259" width="1" height="1" fill="#e63c6e"/>
<rect x="413" y="260" width="1" height="1" fill="#aa3cdc"/>
<rect x="413" y="261" width="1" height="1" fill="#e63c6e"/>
<rect x="413" y="262" width="1" height="1" fill="#aa3cdc"/>
<rect x="413" y="263" width="1" height="1" fill="#e63c6e"/>
<rect x="413" y="264" width="1" height="1" fill="#aa3cdc"/>
<rect x="413" y="265" width="1" height="1" fill="#e63c6e"/>
<rect x="413" y="266" width="1" height="8" fill="#a020f0"/>
<rect x="411" y="272" width="5" height="1" fill="#dc6e78"/>
<rect x="411" y="273" width="5" height="1" fill="#a020f0"/>
<rect x="410" y="247" width="1" height="1" fill="#a020f0"/>
<rect x="411" y="247" width="1" height="1" fill="#a020f0"/>
<rect x="414" y="247" width="1" height="1" fill="#a020f0"/>
<rect x="410" y="248" width="1" height="1" fill="#a020f0"/>
<rect x="411" y="248" width="1" height="1" fill="#a020f0"/>
<rect x="412" y="248" width="1" height="1" fill="#a020f0"/>
<rect x="413" y="248" width="1" height="1" fill="#a020f0"/>
<rect x="414" y="248" width="1" height="1" fill="#a020f0"/>
<rect x="415" y="248" width="1" height="1" fill="#a020f0"/>
<rect x="410" y="249" width="1" height="1" fill="#ffa500"/>
<rect x="411" y="249" width="1" height="1" fill="#a020f0"/>
<rect x="412" y="249" width="1" height="1" fill="#a020f0"/>
<rect x="413" y="249" width="1" height="1" fill="#a020f0"/>
<rect x="414" y="249" width="1" height="1" fill="#ffa500"/>
<rect x="410" y="250" width="1" height="1" fill="#ffa500"/>
<rect x="411" y="250" width="1" height="1" fill="#a020f0"/>
<rect x="412" y="250" width="1" height="1" fill="#a020f0"/>
<rect x="413" y="250" width="1" height="1" fill="#a020f0"/>
<rect x="414" y="250" width="1" height="1" fill="#ffa500"/>
<rect x="410" y="251" width="1" height="1" fill="#a020f0"/>
<rect x="411" y="251" width="1" height="1" fill="#a020f0"/>
<rect x="412" y="251" width="1" height="1" fill="#a020f0"/>
<rect x="413" y="251" width="1" height="1" fill="#a020f0"/>
<rect x="414" y="251" width="1" height="1" fill="#a020f0"/>
<rect x="415" y="251" width="1" height="1" fill="#a020f0"/>
<rect x="410" y="252" width="1" height="1" fill="#a020f0"/>
<rect x="411" y="252" width="1" height="1" fill="#a020f0"/>
<rect x="413" y="252" width="1" height="1" fill="#a020f0"/>
<rect x="414" y="252" width="1" height="1" fill="#a020f0"/>
<rect x="415" y="252" width="1" height="1" fill="#a020f0"/>
<rect x="446" y="173" width="1" height="53" fill="#ffa500"/>
<rect x="442" y="173" width="6" height="1" fill="#ffa500"/>
<rect x="442" y="174" width="6" height="1" fill="#ffa500"/>
<rect x="442" y="175" width="6" height="1" fill="#ffa500"/>
<rect x="444" y="176" width="1" height="50" fill="#e0506e"/>
<rect x="445" y="176" width="1" height="1" fill="#aa3cdc"/>
<rect x="445" y="177" width="1" height="1" fill="#e63c6e"/>
<rect x="445" y="178" width="1" height="1" fill="#aa3cdc"/>
<rect x="445" y="179" width="1" height="1" fill="#e63c6e"/>
<rect x="445" y="180" width="1" height="1" fill="#aa3cdc"/>
<rect x="445" y="181" width="1" height="1" fill="#e63c6e"/>
<rect x="445" y="182" width="1" height="1" fill="#aa3cdc"/>
<rect x="445" y="183" width="1" height="1" fill="#e63c6e"/>
<rect x="445" y="184" width="1" height="1" fill="#aa3cdc"/>
<rect x="445" y="185" width="1" height="1" fill="#e63c6e"/>
<rect x="445" y="186" width="1" height="1" fill="#aa3cdc"/>
<rect x="445" y="187" width="1" height="1" fill="#e63c6e"/>
<rect x="445" y="188" width="1" height="1" fill="#aa3cdc"/>
<rect x="445" y="189" width="1" height="1" fill="#e63c6e"/>
<rect x="445" y="190" width="1" height="1" fill="#aa3cdc"/>
<rect x="445" y="191" width="1" height="1" fill="#e63c6e"/>
<rect x="445" y="192" width="1" height="1" fill="#aa3cdc"/>
<rect x="445" y="193" width="1" height="1" fill="#e63c6e"/>
<rect x="445" y="194" width="1" height="1" fill="#aa3cdc"/>
<rect x="445" y="195" width="1" height="1" fill="#e63c6e"/>
<rect x="445" y="196" width="1" height="1" fill="#aa3cdc"/>
<rect x="445" y="197" width="1" height="1" fill="#e63c6e"/>
<rect x="445" y="198" width="1" height="1" fill="#aa3cdc"/>
<rect x="445" y="199" width="1" height="1" fill="#e63c6e"/>
<rect x="445" y="200" width="1" height="1" fill="#aa3cdc"/>
<rect x="445" y="201" width="1" height="1" fill="#e63c6e"/>
<rect x="445" y="202" width="1" height="1" fill="#aa3cdc"/>
<rect x="445" y="203" width="1" height="1" fill="#e63c6e"/>
<rect x="445" y="204" width="1" height="1" fill="#aa3cdc"/>
<rect x="445" y="205" width="1" height="1" fill="#e63c6e"/>
<rect x="445" y="206" width="1" height="1" fill="#aa3cdc"/>
<rect x="445" y="207" width="1" height="1" fill="#e63c6e"/>
<rect x="445" y="208" width="1" height="1" fill="#aa3cdc"/>
<rect x="445" y="209" width="1" height="1" fill="#e63c6e"/>
<rect x="445" y="210" width="1" height="1" fill="#aa3cdc"/>
<rect x="445" y="211" width="1" height="1" fill="#e63c6e"/>
<rect x="445" y="212" width="1" height="1" fill="#aa3cdc"/>
<rect x="445" y="213" width="1" height="1" fill="#e63c6e"/>
<rect x="445" y="214" width="1" height="1" fill="#aa3cdc"/>
<rect x="445" y="215" width="1" height="1" fill="#e63c6e"/>
<rect x="445" y="216" width="1" height="1" fill="#aa3cdc"/>
<rect x="445" y="217" width="1" height="1" fill="#e63c6e"/>
<rect x="445" y="218" width="1" height="1" fill="#aa3cdc"/>
<rect x="445" y="219" width="1" height="1" fill="#e63c6e"/>
<rect x="445" y="220" width="1" height="1" fill="#aa3cdc"/>
<rect x="445" y="221" width="1" height="1" fill="#e63c6e"/>
<rect x="445" y="222" width="1" height="1" fill="#aa3cdc"/>
<rect x="445" y="223" width="1" height="1" fill="#e63c6e"/>
<rect x="445" y="224" width="1" height="1" fill="#aa3cdc"/>
<rect x="445" y="225" width="1" height="1" fill="#e63c6e"/>
<rect x="442" y="176" width="6" height="1" fill="#a020f0"/>
<rect x="442" y="177" width="6" height="1" fill="#a020f0"/>
<rect x="442" y="199" width="6" height="1" fill="#ffa500"/>
<rect x="442" y="200" width="1" height="1" fill="#a020f0"/>
<rect x="443" y="200" width="1" height="1" fill="#a020f0"/>
<rect x="446" y="200" width="1" height="1" fill="#a020f0"/>
<rect x="442" y="201" width="1" height="1" fill="#a020f0"/>
<rect x="443" y="201" width="1" height="1" fill="#a020f0"/>
<rect x="444" y="201" width="1" height="1" fill="#a020f0"/>
<rect x="445" y="201" width="1" height="1" fill="#a020f0"/>
<rect x="446" y="201" width="1" height="1" fill="#a020f0"/>
<rect x="447" y="201" width="1" height="1" fill="#a020f0"/>
<rect x="442" y="202" width="1" height="1" fill="#ffa500"/>
<rect x="443" y="202" width="1" height="1" fill="#a020f0"/>
<rect x="444" y="202" width="1" height="1" fill="#a020f0"/>
<rect x="445" y="202" width="1" height="1" fill="#a020f0"/>
<rect x="446" y="202" width="1" height="1" fill="#ffa500"/>
<rect x="442" y="203" width="1" height="1" fill="#ffa500"/>
<rect x="443" y="203" width="1" height="1" fill="#a020f0"/>
<rect x="444" y="203" width="1" height="1" fill="#a020f0"/>
<rect x="445" y="203" width="1" height="1" fill="#a020f0"/>
<rect x="446" y="203" width="1" height="1" fill="#ffa500"/>
<rect x="442" y="204" width="1" height="1" fill="#a020f0"/>
<rect x="443" y="204" width="1" height="1" fill="#a020f0"/>
<rect x="444" y="204" width="1" height="1" fill="#a020f0"/>
<rect x="445" y="204" width="1" height="1" fill="#a020f0"/>
<rect x="446" y="204" width="1" height="1" fill="#a020f0"/>
<rect x="447" y="204" width="1" height="1" fill="#a020f0"/>
<rect x="442" y="205" width="1" height="1" fill="#a020f0"/>
<rect x="443" y="205" width="1" height="1" fill="#a020f0"/>
<rect x="445" y="205" width="1" height="1" fill="#a020f0"/>
<rect x="446" y="205" width="1" height="1" fill="#a020f0"/>
<rect x="447" y="205" width="1" height="1" fill="#a020f0"/>
<rect x="91" y="226" width="1" height="1" fill="#ff0000"/>
<rect x="95" y="226" width="1" height="1" fill="#ff0000"/>
<rect x="91" y="227" width="1" height="1" fill="#ff0000"/>
<rect x="92" y="227" width="1" height="1" fill="#ff0000"/>
<rect x="93" y="227" width="1" height="1" fill="#ff0000"/>
<rect x="94" y="227" width="1" height="1" fill="#ff0000"/>
<rect x="95" y="227" width="1" height="1" fill="#ff0000"/>
<rect x="96" y="227" width="1" height="1" fill="#ff0000"/>
<rect x="91" y="228" width="1" height="1" fill="#ff0000"/>
<rect x="92" y="228" width="1" height="1" fill="#ff0000"/>
<rect x="93" y="228" width="1" height="1" fill="#ff0000"/>
<rect x="94" y="228" width="1" height="1" fill="#ff0000"/>
<rect x="95" y="228" width="1" height="1" fill="#ff0000"/>
<rect x="91" y="229" width="1" height="1" fill="#ff0000"/>
<rect x="93" y="229" width="1" height="1" fill="#ff0000"/>
<rect x="94" y="229" width="1" height="1" fill="#ff0000"/>
<rect x="95" y="229" width="1" height="1" fill="#ff0000"/>
<rect x="96" y="229" width="1" height="1" fill="#ff0000"/>
<rect x="91" y="230" width="1" height="1" fill="#ff0000"/>
<rect x="92" y="230" width="1" height="1" fill="#ff0000"/>
<rect x="94" y="230" width="1" height="1" fill="#ff0000"/>
<rect x="95" y="230" width="1" height="1" fill="#ff0000"/>
<rect x="96" y="230" width="1" height="1" fill="#ff0000"/>
<rect x="123" y="225" width="1" height="1" fill="#ff0000"/>
<rect x="127" y="225" width="1" height="1" fill="#ff0000"/>
<rect x="123" y="226" width="1" height="1" fill="#ff0000"/>
<rect x="124" y="226" width="1" height="1" fill="#ff0000"/>
<rect x="125" y="226" width="1" height="1" fill="#ff0000"/>
<rect x="126" y="226" width="1" height="1" fill="#ff0000"/>
<rect x="127" y="226" width="1" height="1" fill="#ff0000"/>
<rect x="128" y="226" width="1" height="1" fill="#ff0000"/>
<rect x="124" y="227" width="1" height="1" fill="#ff0000"/>
<rect x="125" y="227" width="1" height="1" fill="#ff0000"/>
<rect x="126" y="227" width="1" height="1" fill="#ff0000"/>
<rect x="127" y="227" width="1" height="1" fill="#ff0000"/>
<rect x="123" y="228" width="1" height="1" fill="#ff0000"/>
<rect x="124" y="228" width="1" height="1" fill="#ff0000"/>
<rect x="125" y="228" width="1" height="1" fill="#ff0000"/>
<rect x="126" y="228" width="1" height="1" fill="#ff0000"/>
<rect x="127" y="228" width="1" height="1" fill="#ff0000"/>
<rect x="123" y="229" width="1" height="1" fill="#ff0000"/>
<rect x="125" y="229" width="1" height="1" fill="#ff0000"/>
<rect x="126" y="229" width="1" height="1" fill="#ff0000"/>
<rect x="127" y="229" width="1" height="1" fill="#ff0000"/>
<rect x="128" y="229" width="1" height="1" fill="#ff0000"/>
<rect x="123" y="230" width="1" height="1" fill="#ff0000"/>
<rect x="124" y="230" width="1" height="1" fill="#ff0000"/>
<rect x="126" y="230" width="1" height="1" fill="#ff0000"/>
<rect x="127" y="230" width="1" height="1" fill="#ff0000"/>
<rect x="128" y="230" width="1" height="1" fill="#ff0000"/>
<rect x="155" y="225" width="1" height="1" fill="#ff0000"/>
<rect x="157" y="225" width="1" height="1" fill="#ff0000"/>
<rect x="159" y="225" width="1" height="1" fill="#ff0000"/>
<rect x="155" y="226" width="1" height="1" fill="#ff0000"/>
<rect x="156" y="226" width="1" height="1" fill="#ff0000"/>
<rect x="157" y="226" width="1" height="1" fill="#ff0000"/>
<rect x="158" y="226" width="1" height="1" fill="#ff0000"/>
<rect x="159" y="226" width="1" height="1" fill="#ff0000"/>
<rect x="160" y="226" width="1" height="1" fill="#ff0000"/>
<rect x="156" y="227" width="1" height="1" fill="#ff0000"/>
<rect x="157" y="227" width="1" height="1" fill="#ff0000"/>
<rect x="158" y="227" width="1" height="1" fill="#ff0000"/>
<rect x="159" y="227" width="1" height="1" fill="#ff0000"/>
<rect x="155" y="228" width="1" height="1" fill="#ff0000"/>
<rect x="156" y="228" width="1" height="1" fill="#ff0000"/>
<rect x="157" y="228" width="1" height="1" fill="#ff0000"/>
<rect x="158" y="228" width="1" height="1" fill="#ff0000"/>
<rect x="159" y="228" width="1" height="1" fill="#ff0000"/>
<rect x="160" y="228" width="1" height="1" fill="#ff0000"/>
<rect x="155" y="229" width="1" height="1" fill="#ff0000"/>
<rect x="156" y="229" width="1" height="1" fill="#ff0000"/>
<rect x="157" y="229" width="1" height="1" fill="#ff0000"/>
<rect x="158" y="229" width="1" height="1" fill="#ff0000"/>
<rect x="159" y="229" width="1" height="1" fill="#ff0000"/>
<rect x="155" y="230" width="1" height="1" fill="#ff0000"/>
<rect x="156" y="230" width="1" height="1" fill="#ff0000"/>
<rect x="157" y="230" width="1" height="1" fill="#ff0000"/>
<rect x="159" y="230" width="1" height="1" fill="#ff0000"/>
<rect x="160" y="230" width="1" height="1" fill="#ff0000"/>
<rect x="187" y="225" width="1" height="1" fill="#ff0000"/>
<rect x="189" y="225" width="1" height="1" fill="#ff0000"/>
<rect x="191" y="225" width="1" height="1" fill="#ff0000"/>
<rect x="187" y="226" width="1" height="1" fill="#ff0000"/>
<rect x="188" y="226" width="1" height="1" fill="#ff0000"/>
<rect x="189" y="226" width="1" height="1" fill="#ff0000"/>
<rect x="190" y="226" width="1" height="1" fill="#ff0000"/>
<rect x="191" y="226" width="1" height="1" fill="#ff0000"/>
<rect x="188" y="227" width="1" height="1" fill="#ff0000"/>
<rect x="189" y="227" width="1" height="1" fill="#ff0000"/>
<rect x="190" y="227" width="1" height="1" fill="#ff0000"/>
<rect x="191" y="227" width="1" height="1" fill="#ff0000"/>
<rect x="187" y="228" width="1" height="1" fill="#ff0000"/>
<rect x="188" y="228" width="1" height="1" fill="#ff0000"/>
<rect x="189" y="228" width="1" height="1" fill="#ff0000"/>
<rect x="190" y="228" width="1" height="1" fill="#ff0000"/>
<rect x="191" y="228" width="1" height="1" fill="#ff0000"/>
<rect x="187" y="229" width="1" height="1" fill="#ff0000"/>
<rect x="188" y="229" width="1" height="1" fill="#ff0000"/>
<rect x="189" y="229" width="1" height="1" fill="#ff0000"/>
<rect x="190" y="229" width="1" height="1" fill="#ff0000"/>
<rect x="191" y="229" width="1" height="1" fill="#ff0000"/>
<rect x="187" y="230" width="1" height="1" fill="#ff0000"/>
<rect x="188" y="230" width="1" height="1" fill="#ff0000"/>
<rect x="189" y="230" width="1" height="1" fill="#ff0000"/>
<rect x="191" y="230" width="1" height="1" fill="#ff0000"/>
<rect x="219" y="225" width="1" height="1" fill="#ff0000"/>
<rect x="221" y="225" width="1" height="1" fill="#ff0000"/>
<rect x="223" y="225" width="1" height="1" fill="#ff0000"/>
<rect x="219" y="226" width="1" height="1" fill="#ff0000"/>
<rect x="220" y="226" width="1" height="1" fill="#ff0000"/>
<rect x="221" y="226" width="1" height="1" fill="#ff0000"/>
<rect x="222" y="226" width="1" height="1" fill="#ff0000"/>
<rect x="223" y="226" width="1" height="1" fill="#ff0000"/>
<rect x="220" y="227" width="1" height="1" fill="#ff0000"/>
<rect x="221" y="227" width="1" height="1" fill="#ff0000"/>
<rect x="222" y="227" width="1" height="1" fill="#ff0000"/>
<rect x="223" y="227" width="1" height="1" fill="#ff0000"/>
<rect x="219" y="228" width="1" height="1" fill="#ff0000"/>
<rect x="220" y="228" width="1" height="1" fill="#ff0000"/>
<rect x="221" y="228" width="1" height="1" fill="#ff0000"/>
<rect x="222" y="228" width="1" height="1" fill="#ff0000"/>
<rect x="223" y="228" width="1" height="1" fill="#ff0000"/>
<rect x="219" y="229" width="1" height="1" fill="#ff0000"/>
<rect x="220" y="229" width="1" height="1" fill="#ff0000"/>
<rect x="221" y="229" width="1" height="1" fill="#ff0000"/>
<rect x="222" y="229" width="1" height="1" fill="#ff0000"/>
<rect x="223" y="229" width="1" height="1" fill="#ff0000"/>
<rect x="251" y="225" width="1" height="1" fill="#ff0000"/>
<rect x="253" y="225" width="1" height="1" fill="#ff0000"/>
<rect x="255" y="225" width="1" height="1" fill="#ff0000"/>
<rect x="251" y="226" width="1" height="1" fill="#ff0000"/>
<rect x="252" y="226" width="1" height="1" fill="#ff0000"/>
<rect x="253" y="226" width="1" height="1" fill="#ff0000"/>
<rect x="254" y="226" width="1" height="1" fill="#ff0000"/>
<rect x="255" y="226" width="1" height="1" fill="#ff0000"/>
<rect x="252" y="227" width="1" height="1" fill="#ff0000"/>
<rect x="253" y="227" width="1" height="1" fill="#ff0000"/>
<rect x="254" y="227" width="1" height="1" fill="#ff0000"/>
<rect x="255" y="227" width="1" height="1" fill="#ff0000"/>
<rect x="251" y="228" width="1" height="1" fill="#ff0000"/>
<rect x="252" y="228" width="1" height="1" fill="#ff0000"/>
<rect x="253" y="228" width="1" height="1" fill="#ff0000"/>
<rect x="254" y="228" width="1" height="1" fill="#ff0000"/>
<rect x="255" y="228" width="1" height="1" fill="#ff0000"/>
<rect x="251" y="229" width="1" height="1" fill="#ff0000"/>
<rect x="252" y="229" width="1" height="1" fill="#ff0000"/>
<rect x="253" y="229" width="1" height="1" fill="#ff0000"/>
<rect x="254" y="229" width="1" height="1" fill="#ff0000"/>
<rect x="255" y="229" width="1" height="1" fill="#ff0000"/>
<rect x="251" y="230" width="1" height="1" fill="#ff0000"/>
<rect x="252" y="230" width="1" height="1" fill="#ff0000"/>
<rect x="253" y="230" width="1" height="1" fill="#ff0000"/>
<rect x="255" y="230" width="1" height="1" fill="#ff0000"/>
<rect x="283" y="225" width="1" height="1" fill="#ff0000"/>
<rect x="287" y="225" width="1" height="1" fill="#ff0000"/>
<rect x="283" y="226" width="1" height="1" fill="#ff0000"/>
<rect x="284" y="226" width="1" height="1" fill="#ff0000"/>
<rect x="285" y="226" width="1" height="1" fill="#ff0000"/>
<rect x="286" y="226" width="1" height="1" fill="#ff0000"/>
<rect x="283" y="227" width="1" height="1" fill="#ff0000"/>
<rect x="284" y="227" width="1" height="1" fill="#ff0000"/>
<rect x="285" y="227" width="1" height="1" fill="#ff0000"/>
<rect x="286" y="227" width="1" height="1" fill="#ff0000"/>
<rect x="287" y="227" width="1" height="1" fill="#ff0000"/>
<rect x="283" y="228" width="1" height="1" fill="#ff0000"/>
<rect x="284" y="228" width="1" height="1" fill="#ff0000"/>
<rect x="285" y="228" width="1" height="1" fill="#ff0000"/>
<rect x="286" y="228" width="1" height="1" fill="#ff0000"/>
<rect x="287" y="228" width="1" height="1" fill="#ff0000"/>
<rect x="283" y="229" width="1" height="1" fill="#ff0000"/>
<rect x="284" y="229" width="1" height="1" fill="#ff0000"/>
<rect x="285" y="229" width="1" height="1" fill="#ff0000"/>
<rect x="286" y="229" width="1" height="1" fill="#ff0000"/>
<rect x="287" y="229" width="1" height="1" fill="#ff0000"/>
<rect x="283" y="230" width="1" height="1" fill="#ff0000"/>
<rect x="285" y="230" width="1" height="1" fill="#ff0000"/>
<rect x="287" y="230" width="1" height="1" fill="#ff0000"/>
<rect x="315" y="225" width="1" height="1" fill="#ff0000"/>
<rect x="319" y="225" width="1" height="1" fill="#ff0000"/>
<rect x="315" y="226" width="1" height="1" fill="#ff0000"/>
<rect x="316" y="226" width="1" height="1" fill="#ff0000"/>
<rect x="317" y="226" width="1" height="1" fill="#ff0000"/>
<rect x="318" y="226" width="1" height="1" fill="#ff0000"/>
<rect x="315" y="227" width="1" height="1" fill="#ff0000"/>
<rect x="316" y="227" width="1" height="1" fill="#ff0000"/>
<rect x="317" y="227" width="1" height="1" fill="#ff0000"/>
<rect x="318" y="227" width="1" height="1" fill="#ff0000"/>
<rect x="319" y="227" width="1" height="1" fill="#ff0000"/>
<rect x="315" y="228" width="1" height="1" fill="#ff0000"/>
<rect x="316" y="228" width="1" height="1" fill="#ff0000"/>
<rect x="317" y="228" width="1" height="1" fill="#ff0000"/>
<rect x="318" y="228" width="1" height="1" fill="#ff0000"/>
<rect x="319" y="228" width="1" height="1" fill="#ff0000"/>
<rect x="315" y="229" width="1" height="1" fill="#ff0000"/>
<rect x="316" y="229" width="1" height="1" fill="#ff0000"/>
<rect x="317" y="229" width="1" height="1" fill="#ff0000"/>
<rect x="318" y="229" width="1" height="1" fill="#ff0000"/>
<rect x="319" y="229" width="1" height="1" fill="#ff0000"/>
<rect x="315" y="230" width="1" height="1" fill="#ff0000"/>
<rect x="317" y="230" width="1" height="1" fill="#ff0000"/>
<rect x="319" y="230" width="1" height="1" fill="#ff0000"/>
<rect x="347" y="225" width="1" height="1" fill="#ff0000"/>
<rect x="351" y="225" width="1" height="1" fill="#ff0000"/>
<rect x="347" y="226" width="1" height="1" fill="#ff0000"/>
<rect x="348" y="226" width="1" height="1" fill="#ff0000"/>
<rect x="349" y="226" width="1" height="1" fill="#ff0000"/>
<rect x="350" y="226" width="1" height="1" fill="#ff0000"/>
<rect x="347" y="227" width="1" height="1" fill="#ff0000"/>
<rect x="348" y="227" width="1" height="1" fill="#ff0000"/>
<rect x="349" y="227" width="1" height="1" fill="#ff0000"/>
<rect x="350" y="227" width="1" height="1" fill="#ff0000"/>
<rect x="351" y="227" width="1" height="1" fill="#ff0000"/>
<rect x="347" y="228" width="1" height="1" fill="#ff0000"/>
<rect x="348" y="228" width="1" height="1" fill="#ff0000"/>
<rect x="349" y="228" width="1" height="1" fill="#ff0000"/>
<rect x="350" y="228" width="1" height="1" fill="#ff0000"/>
<rect x="351" y="228" width="1" height="1" fill="#ff0000"/>
<rect x="347" y="229" width="1" height="1" fill="#ff0000"/>
<rect x="348" y="229" width="1" height="1" fill="#ff0000"/>
<rect x="349" y="229" width="1" height="1" fill="#ff0000"/>
<rect x="350" y="229" width="1" height="1" fill="#ff0000"/>
<rect x="351" y="229" width="1" height="1" fill="#ff0000"/>
<rect x="347" y="230" width="1" height="1" fill="#ff0000"/>
<rect x="349" y="230" width="1" height="1" fill="#ff0000"/>
<rect x="351" y="230" width="1" height="1" fill="#ff0000"/>
<rect x="379" y="225" width="1" height="1" fill="#ff0000"/>
<rect x="381" y="225" width="1" height="1" fill="#ff0000"/>
<rect x="383" y="225" width="1" height="1" fill="#ff0000"/>
<rect x="379" y="226" width="1" height="1" fill="#ff0000"/>
<rect x="380" y="226" width="1" height="1" fill="#ff0000"/>
<rect x="381" y="226" width="1" height="1" fill="#ff0000"/>
<rect x="382" y="226" width="1" height="1" fill="#ff0000"/>
<rect x="383" y="226" width="1" height="1" fill="#ff0000"/>
<rect x="380" y="227" width="1" height="1" fill="#ff0000"/>
<rect x="381" y="227" width="1" height="1" fill="#ff0000"/>
<rect x="382" y="227" width="1" height="1" fill="#ff0000"/>
<rect x="383" y="227" width="1" height="1" fill="#ff0000"/>
<rect x="379" y="228" width="1" height="1" fill="#ff0000"/>
<rect x="380" y="228" width="1" height="1" fill="#ff0000"/>
<rect x="381" y="228" width="1" height="1" fill="#ff0000"/>
<rect x="382" y="228" width="1" height="1" fill="#ff0000"/>
<rect x="383" y="228" width="1" height="1" fill="#ff0000"/>
<rect x="379" y="229" width="1" height="1" fill="#ff0000"/>
<rect x="380" y="229" width="1" height="1" fill="#ff0000"/>
<rect x="381" y="229" width="1" height="1" fill="#ff0000"/>
<rect x="382" y="229" width="1" height="1" fill="#ff0000"/>
<rect x="383" y="229" width="1" height="1" fill="#ff0000"/>
<rect x="379" y="230" width="1" height="1" fill="#ff0000"/>
<rect x="380" y="230" width="1" height="1" fill="#ff0000"/>
<rect x="381" y="230" width="1" height="1" fill="#ff0000"/>
<rect x="383" y="230" width="1" height="1" fill="#ff0000"/>
<rect x="411" y="225" width="1" height="1" fill="#ff0000"/>
<rect x="413" y="225" width="1" height="1" fill="#ff0000"/>
<rect x="415" y="225" width="1" height="1" fill="#ff0000"/>
<rect x="411" y="226" width="1" height="1" fill="#ff0000"/>
<rect x="412" y="226" width="1" height="1" fill="#ff0000"/>
<rect x="413" y="226" width="1" height="1" fill="#ff0000"/>
<rect x="414" y="226" width="1" height="1" fill="#ff0000"/>
<rect x="415" y="226" width="1" height="1" fill="#ff0000"/>
<rect x="412" y="227" width="1" height="1" fill="#ff0000"/>
<rect x="413" y="227" width="1" height="1" fill="#ff0000"/>
<rect x="414" y="227" width="1" height="1" fill="#ff0000"/>
<rect x="415" y="227" width="1" height="1" fill="#ff0000"/>
<rect x="411" y="228" width="1" height="1" fill="#ff0000"/>
<rect x="412" y="228" width="1" height="1" fill="#ff0000"/>
<rect x="413" y="228" width="1" height="1" fill="#ff0000"/>
<rect x="414" y="228" width="1" height="1" fill="#ff0000"/>
<rect x="415" y="228" width="1" height="1" fill="#ff0000"/>
<rect x="411" y="229" width="1" height="1" fill="#ff0000"/>
<rect x="412" y="229" width="1" height="1" fill="#ff0000"/>
<rect x="413" y="229" width="1" height="1" fill="#ff0000"/>
<rect x="414" y="229" width="1" height="1" fill="#ff0000"/>
<rect x="415" y="229" width="1" height="1" fill="#ff0000"/>
<rect x="411" y="230" width="1" height="1" fill="#ff0000"/>
<rect x="412" y="230" width="1" height="1" fill="#ff0000"/>
<rect x="413" y="230" width="1" height="1" fill="#ff0000"/>
<rect x="415" y="230" width="1" height="1" fill="#ff0000"/>
<rect x="442" y="225" width="1" height="1" fill="#ff0000"/>
<rect x="446" y="225" width="1" height="1" fill="#ff0000"/>
<rect x="442" y="226" width="1" height="1" fill="#ff0000"/>
<rect x="443" y="226" width="1" height="1" fill="#ff0000"/>
<rect x="444" y="226" width="1" height="1" fill="#ff0000"/>
<rect x="445" y="226" width="1" height="1" fill="#ff0000"/>
<rect x="446" y="226" width="1" height="1" fill="#ff0000"/>
<rect x="447" y="226" width="1" height="1" fill="#ff0000"/>
<rect x="443" y="227" width="1" height="1" fill="#ff0000"/>
<rect x="444" y="227" width="1" height="1" fill="#ff0000"/>
<rect x="445" y="227" width="1" height="1" fill="#ff0000"/>
<rect x="446" y="227" width="1" height="1" fill="#ff0000"/>
<rect x="442" y="228" width="1" height="1" fill="#ff0000"/>
<rect x="443" y="228" width="1" height="1" fill="#ff0000"/>
<rect x="444" y="228" width="1" height="1" fill="#ff0000"/>
<rect x="445" y="228" width="1" height="1" fill="#ff0000"/>
<rect x="446" y="228" width="1" height="1" fill="#ff0000"/>
<rect x="442" y="229" width="1" height="1" fill="#ff0000"/>
<rect x="444" y="229" width="1" height="1" fill="#ff0000"/>
<rect x="445" y="229" width="1" height="1" fill="#ff0000"/>
<rect x="446" y="229" width="1" height="1" fill="#ff0000"/>
<rect x="447" y="229" width="1" height="1" fill="#ff0000"/>
<rect x="442" y="230" width="1" height="1" fill="#ff0000"/>
<rect x="443" y="230" width="1" height="1" fill="#ff0000"/>
<rect x="445" y="230" width="1" height="1" fill="#ff0000"/>
<rect x="446" y="230" width="1" height="1" fill="#ff0000"/>
<rect x="447" y="230" width="1" height="1" fill="#ff0000"/>
<rect x="316" y="205" width="1" height="1" fill="#000"/>
<rect x="380" y="229" width="3" height="3" fill="#ffa500"/>
<rect x="412" y="225" width="3" height="1" fill="#ffa500"/>
<rect x="410" y="226" width="1" height="1" fill="#ff0000"/>
<rect x="410" y="230" width="1" height="1" fill="#ff0000"/>
<rect x="411" y="227" width="1" height="1" fill="#a020f0"/>
<rect x="415" y="227" width="1" height="1" fill="#a020f0"/>
<rect x="412" y="229" width="1" height="2" fill="#dc6e78"/>
<rect x="413" y="229" width="1" height="2" fill="#a020f0"/>
<rect x="414" y="229" width="1" height="2" fill="#ffa500"/>
<rect x="442" y="226" width="1" height="2" fill="#f07850"/>
<rect x="443" y="227" width="1" height="1" fill="#f07850"/>
<rect x="446" y="227" width="2" height="1" fill="#f08060"/>
<rect x="444" y="226" width="2" height="2" fill="#e83c78"/>
<rect x="444" y="225" width="1" height="1" fill="#c83296"/>
<rect x="445" y="225" width="1" height="1" fill="#e0506e"/>
<rect x="446" y="225" width="1" height="1" fill="#ffa500"/>
<rect x="189" y="216" width="1" height="1" fill="#000"/>
<rect x="381" y="200" width="1" height="1" fill="#000"/>
<rect x="413" y="201" width="1" height="1" fill="#000"/>
<rect x="444" y="255" width="2" height="1" fill="#000"/>
<rect x="444" y="288" width="2" height="1" fill="#000"/>
<rect x="416" y="56" width="44" height="3" fill="#ffa500"/>
<rect x="416" y="55" width="3" height="5" fill="#ffa500"/>
<rect x="457" y="55" width="3" height="5" fill="#ffa500"/>
<rect x="437" y="55" width="3" height="6" fill="#ffa500"/>
<rect x="417" y="72" width="43" height="2" fill="#a020f0"/>
<rect x="417" y="70" width="2" height="6" fill="#a020f0"/>
<rect x="458" y="70" width="2" height="6" fill="#a020f0"/>
<rect x="435" y="70" width="6" height="6" fill="#a020f0"/>
<rect x="437" y="70" width="2" height="1" fill="#000"/>
<rect x="438" y="75" width="1" height="1" fill="#000"/>
<rect x="417" y="88" width="42" height="1" fill="#ff0000"/>
<rect x="417" y="86" width="1" height="5" fill="#ff0000"/>
<rect x="458" y="86" width="1" height="5" fill="#ff0000"/>
<rect x="435" y="86" width="6" height="5" fill="#ff0000"/>
<rect x="435" y="87" width="1" height="1" fill="#000"/>
<rect x="440" y="87" width="1" height="1" fill="#000"/>
<rect x="435" y="89" width="1" height="1" fill="#000"/>
<rect x="437" y="90" width="1" height="1" fill="#000"/>
<rect x="441" y="88" width="1" height="1" fill="#000"/>
</svg>
</body></html>
